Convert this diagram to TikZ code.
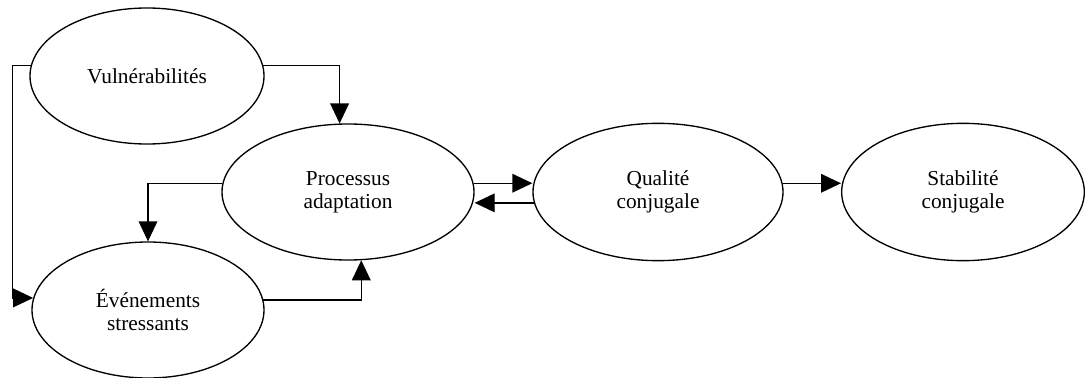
\documentclass[tikz,border=0pt]{standalone}
\usepackage{fontspec}
\setmainfont{Liberation Serif}
\usetikzlibrary{shapes.geometric,arrows.meta}

\begin{document}
\begin{tikzpicture}[x=0.75pt,y=0.75pt,yscale=-1,xscale=1,
  oval/.style={draw,ellipse,line width=1pt,inner sep=0pt,align=center,
    font=\fontsize{16}{17.5}\selectfont},
  link/.style={line width=1pt,-{Triangle[length=15pt,width=14pt]}}]
\useasboundingbox (0,0) rectangle (1086,378);

%Shape: Ellipse [vulnerabilites]
\node [oval,minimum width=175.5pt,minimum height=102pt] (vul) at (147,76) {Vulnérabilités};
%Shape: Ellipse [processus]
\node [oval,minimum width=189pt,minimum height=102pt] (pro) at (348,192) {Processus\\adaptation};
%Shape: Ellipse [evenements]
\node [oval,minimum width=174pt,minimum height=102pt] (eve) at (148,310) {Événements\\stressants};
%Shape: Ellipse [qualite]
\node [oval,minimum width=187.5pt,minimum height=103pt] (qua) at (658,192) {Qualité\\conjugale};
%Shape: Ellipse [stabilite]
\node [oval,minimum width=182pt,minimum height=103pt] (sta) at (963,192) {Stabilité\\conjugale};

%Straight Lines
\draw [link] (vul.5) -| (pro.97) ;
\draw [link] (vul.175) -- ++(-18,0) |- (eve.174) ;
\draw [link] (pro.176) -| (eve.north) ;
\draw [link] (eve.5) -| (pro.281) ;
\draw [link] (pro.4) -- (pro.4 -| qua.west) ;
\draw [link] (qua.185) -- (qua.185 -| pro.east) ;
\draw [link] (qua.4) -- (qua.4 -| sta.west) ;

\end{tikzpicture}
\end{document}
